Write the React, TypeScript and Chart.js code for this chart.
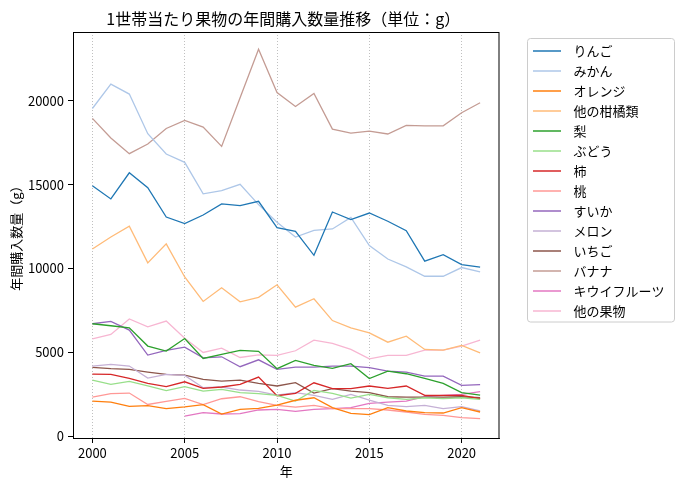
import { useEffect, useRef } from "react";
import { Chart, registerables } from "chart.js";

Chart.register(...registerables);

const FONT = '"Noto Sans CJK JP", "Noto Sans", sans-serif';

const years = [
  2000, 2001, 2002, 2003, 2004, 2005, 2006, 2007, 2008, 2009, 2010,
  2011, 2012, 2013, 2014, 2015, 2016, 2017, 2018, 2019, 2020, 2021,
];
const xTicks = [2000, 2005, 2010, 2015, 2020];
const yTicks = [0, 5000, 10000, 15000, 20000];

const apple = [14940, 14150, 15710, 14820, 13070, 12680, 13190, 13850, 13750, 14010, 12440, 12220, 10790, 13370, 12920, 13310, 12820, 12260, 10440, 10830, 10240, 10080];
const mikan = [19540, 20990, 20400, 18040, 16830, 16330, 14450, 14640, 15020, 13810, 12760, 11880, 12280, 12360, 13050, 11370, 10570, 10100, 9540, 9540, 10060, 9800];
const orange = [2100, 2040, 1790, 1830, 1650, 1750, 1890, 1330, 1610, 1670, 1860, 2150, 2300, 1710, 1370, 1290, 1710, 1510, 1410, 1390, 1710, 1450];
const otherCitrus = [11170, 11880, 12520, 10340, 11470, 9500, 8040, 8850, 8020, 8280, 9030, 7700, 8200, 6900, 6470, 6170, 5610, 5970, 5180, 5140, 5420, 4980];
const pear = [6710, 6590, 6470, 5380, 5080, 5830, 4640, 4880, 5120, 5070, 4030, 4520, 4230, 4050, 4330, 3440, 3890, 3730, 3450, 3150, 2600, 2450];
const grape = [3350, 3100, 3270, 3000, 2720, 2960, 2700, 2800, 2600, 2540, 2440, 2100, 2740, 2560, 2280, 2500, 2300, 2200, 2300, 2250, 2300, 2200];
const persimmon = [3710, 3690, 3450, 3160, 2960, 3250, 2860, 2940, 3100, 3530, 2420, 2560, 3190, 2840, 2840, 3000, 2860, 3000, 2440, 2440, 2440, 2240];
const peach = [2340, 2540, 2580, 1900, 2080, 2260, 1890, 2240, 2360, 2070, 1850, 1740, 1850, 1650, 1650, 1650, 1570, 1450, 1310, 1250, 1110, 1050];
const watermelon = [6710, 6850, 6330, 4840, 5120, 5320, 4680, 4740, 4150, 4560, 3990, 4130, 4130, 4190, 4190, 4090, 3890, 3830, 3590, 3590, 3040, 3080];
const melon = [4190, 4290, 4190, 3470, 3690, 3630, 2900, 2940, 2760, 2680, 2460, 2600, 2440, 2200, 2500, 2160, 1850, 1770, 1850, 1650, 1770, 1510];
const strawberry = [4110, 4030, 3990, 3830, 3690, 3650, 3390, 3290, 3350, 3160, 3000, 3200, 2580, 2840, 2700, 2600, 2360, 2340, 2340, 2340, 2360, 2300];
const banana = [18950, 17780, 16850, 17420, 18350, 18830, 18430, 17280, 20180, 23070, 20490, 19660, 20440, 18310, 18070, 18190, 18020, 18530, 18510, 18510, 19290, 19880];
const kiwi = [null, null, null, null, null, 1210, 1410, 1330, 1350, 1570, 1610, 1490, 1610, 1650, 1710, 1960, 2040, 2100, 2360, 2440, 2500, 2660];
const otherFruit = [5810, 6070, 7000, 6530, 6870, 5850, 5000, 5260, 4700, 4860, 4820, 5100, 5730, 5540, 5180, 4620, 4820, 4820, 5140, 5140, 5380, 5730];

const names = ["りんご", "みかん", "オレンジ", "他の柑橘類", "梨", "ぶどう", "柿", "桃", "すいか", "メロン", "いちご", "バナナ", "キウイフルーツ", "他の果物"];
const series = [apple, mikan, orange, otherCitrus, pear, grape, persimmon, peach, watermelon, melon, strawberry, banana, kiwi, otherFruit];
const colors = ["#1f77b4", "#aec7e8", "#ff7f0e", "#ffbb78", "#2ca02c", "#98df8a", "#d62728", "#ff9896", "#9467bd", "#c5b0d5", "#8c564b", "#c49c94", "#e377c2", "#f7b6d2"];

const TITLE = "1世帯当たり果物の年間購入数量推移（単位：g）";

// legend handle: a 28px line inside a 34px wide image, so text sits a bit further away
function handle(color: string) {
  const c = document.createElement("canvas");
  c.width = 34;
  c.height = 4;
  const g = c.getContext("2d")!;
  g.strokeStyle = color;
  g.lineWidth = 1.5;
  g.beginPath();
  g.moveTo(0, 2);
  g.lineTo(28, 2);
  g.stroke();
  return c;
}

const decor = {
  id: "decor",
  afterLayout(chart: any) {
    const lg = chart.legend;
    if (!lg) return;
    const dx = 526 - lg.left;
    const dy = 37.5 - lg.top;
    lg.left += dx;
    lg.right += dx;
    lg.top += dy;
    lg.bottom += dy;
  },
  afterDraw(chart: any) {
    const { ctx, chartArea: a } = chart;
    ctx.save();
    ctx.strokeStyle = "#000";
    ctx.lineWidth = 1;
    ctx.strokeRect(a.left + 0.5, a.top + 0.5, a.right - a.left - 1, a.bottom - a.top);

    ctx.fillStyle = "#000";
    ctx.font = `16px ${FONT}`;
    ctx.textAlign = "center";
    ctx.textBaseline = "middle";
    ctx.fillText(TITLE, (a.left + a.right) / 2 - 3, 19);

    const hb = chart.legend?.legendHitBoxes;
    if (hb && hb.length) {
      const x = hb[0].left - 6;
      const y = hb[0].top - 6.5;
      const w = 147;
      const h = hb[hb.length - 1].top + hb[hb.length - 1].height + 4 - y;
      ctx.strokeStyle = "#cccccc";
      ctx.beginPath();
      ctx.roundRect(x + 0.5, y + 0.5, w, h, 3);
      ctx.stroke();
    }
    ctx.restore();
  },
};

export default function App() {
  const canvasRef = useRef<HTMLCanvasElement | null>(null);

  useEffect(() => {
    if (!canvasRef.current) return;
    const chart = new Chart(canvasRef.current, {
      type: "line",
      data: {
        datasets: series.map((vals, i) => ({
          label: names[i],
          data: years.map((yr, j) => ({ x: yr, y: vals[j] })),
          borderColor: colors[i],
          backgroundColor: colors[i],
          borderWidth: 1.3,
          pointRadius: 0,
          pointHoverRadius: 0,
          pointStyle: handle(colors[i]),
          tension: 0,
        })),
      },
      options: {
        animation: false,
        responsive: false,
        events: [],
        layout: { padding: { top: 32, right: 36, bottom: 0, left: 0 } },
        plugins: {
          title: { display: false },
          tooltip: { enabled: false },
          legend: {
            position: "right",
            align: "start",
            labels: {
              usePointStyle: true,
              pointStyleWidth: 34,
              padding: 7,
              color: "#000",
              font: { family: FONT, size: 13 },
            },
          },
        },
        scales: {
          x: {
            type: "linear",
            min: 1998.95,
            max: 2022.05,
            afterFit: (s: any) => {
              s.height = 51;
            },
            afterBuildTicks: (s: any) => {
              s.ticks = xTicks.map((v) => ({ value: v }));
            },
            ticks: {
              color: "#000",
              font: { family: FONT, size: 13 },
              padding: 2,
              maxRotation: 0,
              callback: (v: any) => String(v),
            },
            grid: {
              color: "#b0b0b0",
              lineWidth: 0.8,
              tickColor: "#000",
              tickLength: 5,
              tickWidth: 1,
            },
            border: { display: true, color: "#000", dash: [1, 2] },
            title: {
              display: true,
              text: "年",
              color: "#000",
              font: { family: FONT, size: 13 },
              padding: { top: 0, bottom: 10 },
            },
          },
          y: {
            type: "linear",
            min: -100,
            max: 24100,
            afterFit: (s: any) => {
              s.width = 73;
            },
            afterBuildTicks: (s: any) => {
              s.ticks = yTicks.map((v) => ({ value: v }));
            },
            ticks: {
              color: "#000",
              font: { family: FONT, size: 13 },
              padding: 4,
              callback: (v: any) => String(v),
            },
            grid: {
              drawOnChartArea: false,
              tickColor: "#000",
              tickLength: 5,
              tickWidth: 1,
            },
            border: { display: true, color: "#000" },
            title: {
              display: true,
              text: "年間購入数量（g）",
              color: "#000",
              font: { family: FONT, size: 13 },
              padding: { top: 8, bottom: 0 },
            },
          },
        },
      },
      plugins: [decor],
    });
    return () => chart.destroy();
  }, []);

  return (
    <div style={{ position: "fixed", left: 0, top: 0, width: 684, height: 489, background: "#fff" }}>
      <canvas ref={canvasRef} width={684} height={489} />
    </div>
  );
}
